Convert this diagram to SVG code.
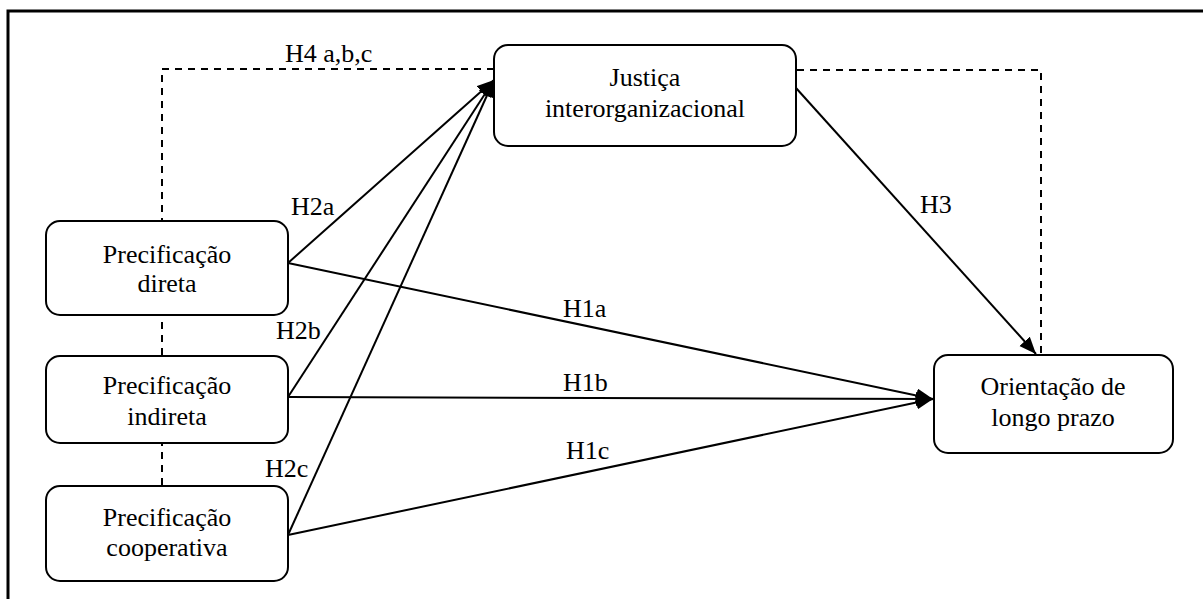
<svg xmlns="http://www.w3.org/2000/svg" width="1203" height="599" viewBox="0 0 1203 599">
<style>
.box{fill:#fff;stroke:#000;stroke-width:2}
.t{font-family:"Liberation Serif","Times New Roman",serif;font-size:26px;fill:#000;text-anchor:middle}
.lbl{font-family:"Liberation Serif","Times New Roman",serif;font-size:26px;fill:#000}
.ln{fill:none;stroke:#000;stroke-width:2}
.dash{fill:none;stroke:#000;stroke-width:2;stroke-dasharray:7 6}
</style>
<defs>
<marker id="arr" markerUnits="userSpaceOnUse" markerWidth="18" markerHeight="16" refX="17" refY="7" orient="auto">
<path d="M0,0 L17,7 L0,14 z" fill="#000"/>
</marker>
</defs>
<rect x="0" y="0" width="1203" height="599" fill="#fff"/>
<rect x="8" y="11" width="1400" height="800" fill="none" stroke="#000" stroke-width="3"/>
<g id="connectors">
<path class="dash" d="M494,69 H162 V486"/>
<path class="dash" d="M797,70 H1041 V355"/>
<line class="ln" x1="288" y1="263" x2="494" y2="80" marker-end="url(#arr)"/>
<line class="ln" x1="288" y1="397" x2="494" y2="80" marker-end="url(#arr)"/>
<line class="ln" x1="288" y1="535" x2="494" y2="80" marker-end="url(#arr)"/>
<line class="ln" x1="288" y1="263" x2="933" y2="399" marker-end="url(#arr)"/>
<line class="ln" x1="288" y1="397" x2="933" y2="399" marker-end="url(#arr)"/>
<line class="ln" x1="288" y1="535" x2="933" y2="399" marker-end="url(#arr)"/>
<line class="ln" x1="796" y1="88" x2="1036" y2="354" marker-end="url(#arr)"/>
<text class="lbl" x="285" y="62">H4 a,b,c</text>
<text class="lbl" x="291" y="215">H2a</text>
<text class="lbl" x="276" y="339">H2b</text>
<text class="lbl" x="265" y="477">H2c</text>
<text class="lbl" x="920" y="213">H3</text>
<text class="lbl" x="563" y="317">H1a</text>
<text class="lbl" x="563" y="391">H1b</text>
<text class="lbl" x="566" y="459">H1c</text>
</g>
<g id="node-justica">
<rect class="box" x="494" y="45" width="302" height="101" rx="14"/>
<text class="t" x="645" y="86">Justiça</text>
<text class="t" x="645" y="117">interorganizacional</text>
</g>
<g id="node-direta">
<rect class="box" x="46" y="221" width="242" height="94" rx="14"/>
<text class="t" x="167" y="263">Precificação</text>
<text class="t" x="167" y="292">direta</text>
</g>
<g id="node-indireta">
<rect class="box" x="46" y="356" width="242" height="87" rx="14"/>
<text class="t" x="167" y="394">Precificação</text>
<text class="t" x="167" y="425">indireta</text>
</g>
<g id="node-cooperativa">
<rect class="box" x="46" y="486" width="242" height="95" rx="14"/>
<text class="t" x="167" y="526">Precificação</text>
<text class="t" x="167" y="556">cooperativa</text>
</g>
<g id="node-orientacao">
<rect class="box" x="934" y="355" width="239" height="98" rx="14"/>
<text class="t" x="1053" y="395">Orientação de</text>
<text class="t" x="1053" y="426">longo prazo</text>
</g>
</svg>
